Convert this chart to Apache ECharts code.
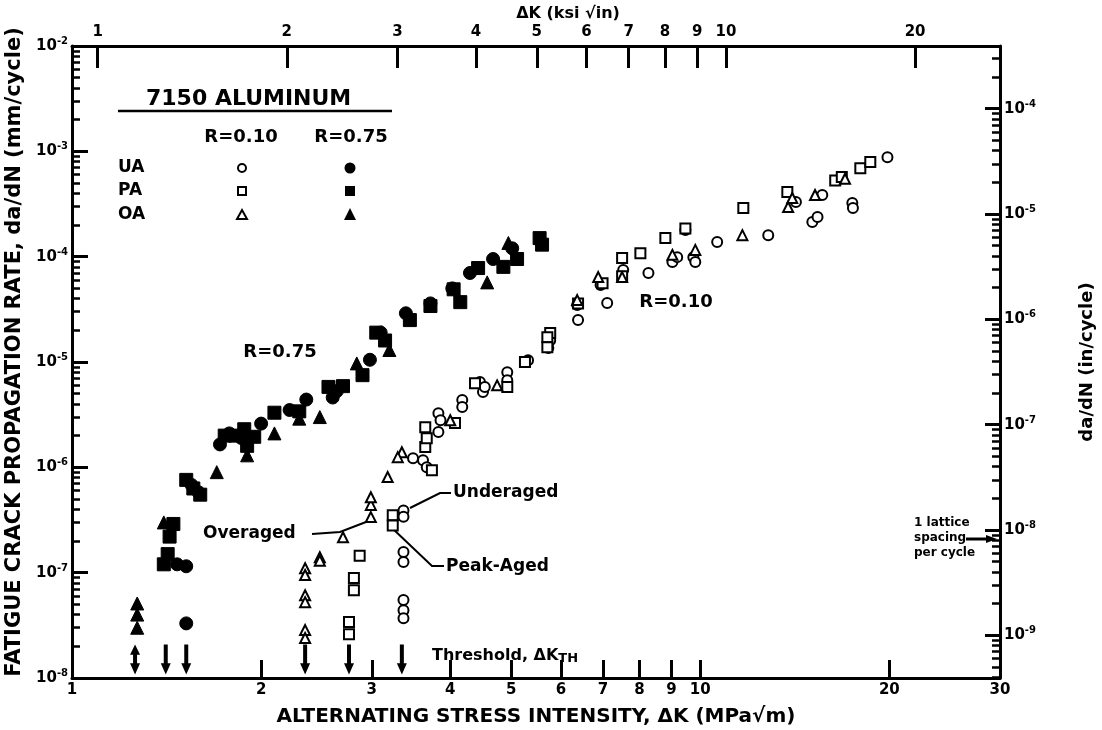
<!DOCTYPE html>
<html><head><meta charset="utf-8">
<script src="https://cdn.jsdelivr.net/npm/echarts@6/dist/echarts.min.js"></script>
<style>html,body{margin:0;padding:0;background:#fff}#c{width:1102px;height:730px}</style>
</head><body><div id="c"></div>
<script>
// ---- axis ticks / labels ----
const xTickValues = [2, 3, 4, 5, 6, 7, 8, 9, 10, 20];
const xLabelValues = [1, 2, 3, 4, 5, 6, 7, 8, 9, 10, 20, 30];
const topTickValues = [1, 2, 3, 4, 5, 6, 7, 8, 9, 10, 20];
const mmDecades = [1e-8, 1e-7, 1e-6, 1e-5, 1e-4, 1e-3, 1e-2];
const inDecades = [1e-9, 1e-8, 1e-7, 1e-6, 1e-5, 1e-4];
const MPA_PER_KSI = 1.0988;   // 1 ksi*sqrt(in) in MPa*sqrt(m)
const MM_PER_IN = 25.4;

// ---- data: [deltaK (MPa*sqrt(m)), da/dN (mm/cycle)] ----
// R = 0.10 (open symbols)
const ua010 = [
  [3.37, 3.9e-7], [3.37, 3.4e-7], [3.37, 1.57e-7], [3.37, 1.26e-7], [3.37, 5.5e-8], [3.37, 4.4e-8], [3.37, 3.7e-8],
  [3.49, 1.22e-6], [3.62, 1.17e-6], [3.67, 1.0e-6], [3.83, 3.27e-6], [3.86, 2.8e-6], [3.83, 2.16e-6],
  [4.18, 4.35e-6], [4.18, 3.73e-6], [4.46, 6.45e-6], [4.51, 5.2e-6], [4.54, 5.8e-6], [4.93, 8.0e-6], [4.93, 6.7e-6],
  [5.26, 1.0e-5], [5.32, 1.04e-5], [5.77, 1.61e-5], [5.73, 1.36e-5],
  [6.37, 3.47e-5], [6.39, 2.5e-5], [7.11, 3.63e-5], [6.94, 5.37e-5], [7.54, 7.46e-5], [8.27, 6.98e-5],
  [9.03, 8.9e-5], [9.19, 9.9e-5], [9.47, 1.79e-4], [9.75, 9.9e-5], [9.82, 8.9e-5], [10.64, 1.38e-4],
  [12.83, 1.6e-4], [14.2, 3.3e-4], [15.08, 2.13e-4], [15.37, 2.38e-4], [15.64, 3.85e-4], [17.46, 3.23e-4], [17.5, 2.9e-4], [19.86, 8.8e-4]
];
const pa010 = [
  [2.87, 1.45e-7], [2.81, 8.9e-8], [2.81, 6.8e-8], [2.76, 3.4e-8], [2.76, 2.6e-8], [3.24, 3.5e-7], [3.24, 2.8e-7],
  [3.65, 1.56e-6], [3.67, 1.89e-6], [3.65, 2.4e-6], [3.74, 9.4e-7], [4.07, 2.63e-6], [4.38, 6.3e-6], [4.93, 5.8e-6],
  [5.26, 1.0e-5], [5.77, 1.88e-5],
  [5.71, 1.72e-5], [5.71, 1.38e-5], [6.39, 3.6e-5], [6.99, 5.6e-5], [7.51, 9.7e-5], [7.51, 6.5e-5], [8.03, 1.08e-4],
  [8.80, 1.5e-4], [9.47, 1.85e-4], [11.71, 2.9e-4], [13.76, 4.1e-4], [16.4, 5.3e-4], [16.8, 5.7e-4], [17.98, 6.9e-4], [18.65, 7.9e-4]
];
const oa010 = [
  [2.35, 2.85e-8], [2.35, 2.4e-8], [2.35, 6.1e-8], [2.35, 5.25e-8], [2.35, 1.1e-7], [2.35, 9.5e-8],
  [2.48, 1.4e-7], [2.48, 1.3e-7], [2.70, 2.17e-7], [2.99, 3.37e-7], [2.99, 4.4e-7], [2.99, 5.2e-7],
  [3.18, 8.1e-7], [3.35, 1.39e-6], [3.30, 1.25e-6],
  [4.0, 2.8e-6], [4.75, 6.0e-6], [6.37, 3.87e-5], [6.88, 6.4e-5], [7.51, 6.4e-5], [9.03, 1.04e-4], [9.82, 1.16e-4],
  [11.67, 1.6e-4], [13.8, 2.96e-4], [14.01, 3.6e-4], [15.23, 3.85e-4], [17.0, 5.5e-4]
];
// R = 0.75 (filled symbols)
const ua075 = [
  [1.52, 3.3e-8], [1.47, 1.2e-7], [1.52, 1.15e-7], [1.55, 6.8e-7], [1.59, 5.8e-7],
  [1.72, 1.65e-6], [1.78, 2.1e-6], [1.86, 1.9e-6], [2.00, 2.6e-6], [2.22, 3.5e-6], [2.36, 4.4e-6], [2.60, 4.6e-6], [2.64, 5.3e-6],
  [2.98, 1.05e-5], [3.10, 1.9e-5], [3.40, 2.9e-5], [3.72, 3.6e-5], [4.03, 5.0e-5], [4.30, 7.0e-5], [4.68, 9.5e-5], [5.02, 1.2e-4]
];
const pa075 = [
  [1.40, 1.2e-7], [1.42, 1.5e-7], [1.43, 2.2e-7], [1.45, 2.9e-7], [1.52, 7.6e-7], [1.56, 6.3e-7], [1.60, 5.5e-7],
  [1.75, 2.0e-6], [1.82, 2.0e-6], [1.88, 2.3e-6], [1.95, 1.95e-6], [1.90, 1.6e-6], [2.10, 3.3e-6], [2.30, 3.4e-6],
  [2.56, 5.8e-6], [2.70, 5.9e-6], [2.90, 7.5e-6], [3.05, 1.9e-5], [3.15, 1.6e-5], [3.45, 2.5e-5], [3.72, 3.4e-5],
  [4.05, 4.9e-5], [4.15, 3.7e-5], [4.43, 7.8e-5], [4.86, 8.0e-5], [5.11, 9.5e-5], [5.55, 1.5e-4], [5.60, 1.3e-4]
];
const oa075 = [
  [1.27, 5.1e-8], [1.27, 4.0e-8], [1.27, 3.0e-8], [1.40, 3.0e-7], [1.70, 9.0e-7], [1.90, 1.3e-6], [2.10, 2.1e-6],
  [2.30, 2.9e-6], [2.48, 3.0e-6], [2.84, 9.7e-6], [3.20, 1.3e-5], [4.58, 5.7e-5], [4.95, 1.35e-4]
];
// threshold arrows (deltaK_TH) and their drawing level
const thresholdDK = [1.26, 1.41, 1.52, 2.35, 2.76, 3.35];
const arrowLevel = 1.5e-8;

// ---- helpers ----
const FONT = 'DejaVu Sans';
const minorOf = (decs, lo, hi) => {
  const out = [];
  decs.forEach(d => { for (let k = 2; k <= 9; k++) { const v = d * k; if (v > lo && v < hi) out.push(v); } });
  return out;
};
const mmMin = 1e-8, mmMax = 1e-2;
const inMin = mmMin / MM_PER_IN, inMax = mmMax / MM_PER_IN;
const mmMinor = minorOf([1e-8, 1e-7, 1e-6, 1e-5, 1e-4, 1e-3], mmMin, mmMax);
const inMinor = minorOf([1e-10, 1e-9, 1e-8, 1e-7, 1e-6, 1e-5, 1e-4], inMin, inMax);
const expLabel = v => '{b|10}{s|' + Math.round(Math.log10(v)) + '}';
const richExp = {
  b: { fontFamily: FONT, fontWeight: 'bold', fontSize: 15, color: '#000' },
  s: { fontFamily: FONT, fontWeight: 'bold', fontSize: 10, color: '#000', padding: [0, 0, 9, 0] }
};
const axLine = { show: true, onZero: false, lineStyle: { color: '#000', width: 3 } };
const noLine = { show: false };

const DOWN = 'path://M3,0 L7,0 L7,20 L10,20 L5,32 L0,20 L3,20 Z';
const BOTH = 'path://M5,0 L10,11 L7,11 L7,20 L10,20 L5,32 L0,20 L3,20 L3,11 L0,11 Z';

function scatter(name, data, symbol, filled, size) {
  return {
    type: 'scatter', name, data, symbol, symbolSize: size, xAxisIndex: 0, yAxisIndex: 0, silent: true,
    itemStyle: filled ? { color: '#000', borderColor: '#000', borderWidth: 1, opacity: 1 } : { color: '#fff', borderColor: '#000', borderWidth: 2, opacity: 1 },
    z: filled ? 3 : 4
  };
}

const chart = echarts.init(document.getElementById('c'), null, { renderer: 'canvas' });
const txt = (x, y, text, size, extra) => Object.assign({
  type: 'text', x, y,
  style: Object.assign({ text, fontFamily: FONT, fontWeight: 'bold', fontSize: size, fill: '#000' }, extra || {})
});
const line = (pts, w) => ({ type: 'polyline', shape: { points: pts }, style: { stroke: '#000', lineWidth: w || 2, fill: null } });

const option = {
  backgroundColor: '#fff',
  animation: false,
  grid: { left: 72, right: 102, top: 46, bottom: 52, containLabel: false, outerBoundsMode: 'none' },
  xAxis: [
    {
      type: 'log', logBase: 10, min: 1, max: 30, position: 'bottom',
      name: 'ALTERNATING STRESS INTENSITY, ΔK (MPa√m)', nameLocation: 'middle', nameGap: 29,
      nameTextStyle: { fontFamily: FONT, fontWeight: 'bold', fontSize: 20, color: '#000' },
      axisLine: axLine,
      axisTick: { show: true, inside: true, length: 18, customValues: xTickValues, lineStyle: { color: '#000', width: 3 } },
      axisLabel: { show: true, customValues: xLabelValues, margin: 5, fontFamily: FONT, fontWeight: 'bold', fontSize: 15, color: '#000', formatter: v => String(Math.round(v)) },
      splitLine: { show: false }, minorTick: { show: false }
    },
    {
      type: 'log', logBase: 10, min: 1 / MPA_PER_KSI, max: 30 / MPA_PER_KSI, position: 'top',
      axisLine: axLine,
      axisTick: { show: true, inside: true, length: 22, customValues: topTickValues, lineStyle: { color: '#000', width: 3 } },
      axisLabel: { show: true, customValues: topTickValues, margin: 6, fontFamily: FONT, fontWeight: 'bold', fontSize: 15, color: '#000', formatter: v => String(Math.round(v)) },
      splitLine: { show: false }
    }
  ],
  yAxis: [
    {
      type: 'log', logBase: 10, min: mmMin, max: mmMax, position: 'left',
      name: 'FATIGUE CRACK PROPAGATION RATE, da/dN (mm/cycle)', nameLocation: 'middle', nameGap: 43, nameRotate: 90,
      nameTextStyle: { fontFamily: FONT, fontWeight: 'bold', fontSize: 21, color: '#000', padding: [0, 0, 0, 20] },
      axisLine: axLine,
      axisTick: { show: true, inside: true, length: 16, customValues: mmDecades, lineStyle: { color: '#000', width: 3 } },
      axisLabel: { show: true, customValues: mmDecades, margin: 4, formatter: expLabel, rich: richExp },
      splitLine: { show: false }
    },
    {
      type: 'log', logBase: 10, min: mmMin, max: mmMax, position: 'left',
      axisLine: noLine,
      axisTick: { show: true, inside: true, length: 8, customValues: mmMinor, lineStyle: { color: '#000', width: 2.5 } },
      axisLabel: { show: false }, splitLine: { show: false }
    },
    {
      type: 'log', logBase: 10, min: inMin, max: inMax, position: 'right',
      name: 'da/dN (in/cycle)', nameLocation: 'middle', nameGap: 78, nameRotate: 90,
      nameTextStyle: { fontFamily: FONT, fontWeight: 'bold', fontSize: 18, color: '#000' },
      axisLine: axLine,
      axisTick: { show: true, inside: true, length: 15, customValues: inDecades, lineStyle: { color: '#000', width: 3 } },
      axisLabel: { show: true, customValues: inDecades, margin: 4, formatter: expLabel, rich: richExp },
      splitLine: { show: false }
    },
    {
      type: 'log', logBase: 10, min: inMin, max: inMax, position: 'right',
      axisLine: noLine,
      axisTick: { show: true, inside: true, length: 8, customValues: inMinor, lineStyle: { color: '#000', width: 2.5 } },
      axisLabel: { show: false }, splitLine: { show: false }
    }
  ],
  series: [
    scatter('UA R=0.10', ua010, 'circle', false, 10),
    scatter('PA R=0.10', pa010, 'rect', false, 10),
    scatter('OA R=0.10', oa010, 'triangle', false, 10),
    scatter('UA R=0.75', ua075, 'circle', true, 13),
    scatter('PA R=0.75', pa075, 'rect', true, 13),
    scatter('OA R=0.75', oa075, 'triangle', true, 13),
    {
      type: 'scatter', name: 'ΔK threshold', xAxisIndex: 0, yAxisIndex: 0, silent: true,
      data: thresholdDK.map((k, i) => ({ value: [k, arrowLevel], symbol: i === 0 ? BOTH : DOWN })),
      symbolSize: [10, 30], itemStyle: { color: '#000', opacity: 1 }, z: 5
    }
  ],
  graphic: [
    txt(146, 88, '7150 ALUMINUM', 22),
    line([[118, 111], [392, 111]], 2.5),
    txt(241, 137, 'R=0.10', 18, { align: 'center', verticalAlign: 'middle' }),
    txt(351, 137, 'R=0.75', 18, { align: 'center', verticalAlign: 'middle' }),
    txt(118, 168, 'UA', 17, { verticalAlign: 'middle' }),
    txt(118, 191, 'PA', 17, { verticalAlign: 'middle' }),
    txt(118, 215, 'OA', 17, { verticalAlign: 'middle' }),
    { type: 'circle', shape: { cx: 242, cy: 168, r: 4 }, style: { fill: '#fff', stroke: '#000', lineWidth: 2 } },
    { type: 'rect', shape: { x: 238, y: 187, width: 8, height: 8 }, style: { fill: '#fff', stroke: '#000', lineWidth: 2 } },
    { type: 'polygon', shape: { points: [[242, 210], [247, 219], [237, 219]] }, style: { fill: '#fff', stroke: '#000', lineWidth: 2 } },
    { type: 'circle', shape: { cx: 350, cy: 168, r: 5.5 }, style: { fill: '#000' } },
    { type: 'rect', shape: { x: 345, y: 186, width: 10, height: 10 }, style: { fill: '#000' } },
    { type: 'polygon', shape: { points: [[350, 208], [356, 220], [344, 220]] }, style: { fill: '#000' } },
    txt(280, 352, 'R=0.75', 18, { align: 'center', verticalAlign: 'middle' }),
    txt(676, 302, 'R=0.10', 18, { align: 'center', verticalAlign: 'middle' }),
    txt(203, 534, 'Overaged', 17, { verticalAlign: 'middle' }),
    line([[312, 534], [340, 532], [366, 522]], 2),
    txt(453, 493, 'Underaged', 17, { verticalAlign: 'middle' }),
    line([[410, 508], [440, 493], [451, 493]], 2),
    txt(446, 567, 'Peak-Aged', 17, { verticalAlign: 'middle' }),
    line([[392, 528], [432, 566], [444, 566]], 2),
    {
      type: 'text', x: 432, y: 656,
      style: {
        text: '{a|Threshold, ΔK}{t|TH}', verticalAlign: 'middle',
        rich: {
          a: { fontFamily: FONT, fontWeight: 'bold', fontSize: 16, fill: '#000', color: '#000' },
          t: { fontFamily: FONT, fontWeight: 'bold', fontSize: 13, fill: '#000', color: '#000', padding: [6, 0, 0, 0] }
        }
      }
    },
    txt(914, 523, '1 lattice', 12, { verticalAlign: 'middle' }),
    txt(914, 538, 'spacing', 12, { verticalAlign: 'middle' }),
    txt(914, 553, 'per cycle', 12, { verticalAlign: 'middle' }),
    line([[966, 539], [988, 539]], 3),
    { type: 'polygon', shape: { points: [[986, 535], [997, 539], [986, 543]] }, style: { fill: '#000' } },
    txt(568, 14, 'ΔK (ksi √in)', 16, { align: 'center', verticalAlign: 'middle' })
  ]
};
chart.setOption(option);
</script>
</body></html>
